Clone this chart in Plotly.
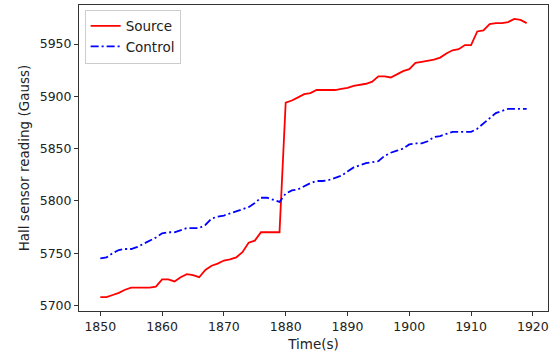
import plotly.graph_objects as go

# Time stamps (s), one reading per second
time_s = list(range(1850, 1920))

# Hall sensor readings (Gauss)
source = [5708, 5708, 5710, 5712, 5715, 5717, 5717, 5717, 5717, 5718,
          5725, 5725, 5723, 5727, 5730, 5729, 5727, 5734, 5738, 5740,
          5743, 5744, 5746, 5751, 5760, 5762, 5770, 5770, 5770, 5770,
          5894, 5896, 5899, 5902, 5903, 5906, 5906, 5906, 5906, 5907,
          5908, 5910, 5911, 5912, 5914, 5919, 5919, 5918, 5921, 5924,
          5926, 5932, 5933, 5934, 5935, 5937, 5941, 5944, 5945, 5949,
          5949, 5962, 5963, 5969, 5970, 5970, 5971, 5974, 5973, 5970]
control = [5745, 5746, 5750, 5753, 5754, 5754, 5756, 5759, 5762, 5765,
           5769, 5770, 5770, 5772, 5774, 5774, 5774, 5777, 5783, 5785,
           5786, 5788, 5790, 5792, 5794, 5798, 5803, 5803, 5801, 5799,
           5807, 5810, 5811, 5814, 5817, 5819, 5819, 5820, 5822, 5824,
           5828, 5832, 5834, 5836, 5837, 5838, 5843, 5846, 5848, 5850,
           5854, 5855, 5855, 5857, 5861, 5862, 5864, 5866, 5866, 5866,
           5866, 5869, 5874, 5879, 5884, 5886, 5888, 5888, 5888, 5888]

x_ticks = [1850, 1860, 1870, 1880, 1890, 1900, 1910, 1920]
y_ticks = [5700, 5750, 5800, 5850, 5900, 5950]

FONT = "DejaVu Sans"
AX_COLOR = "#333333"
TXT_COLOR = "#222222"

def padded(lo, hi, frac=0.05):
    span = hi - lo
    return [lo - frac * span, hi + frac * span]

fig = go.Figure()
fig.add_trace(go.Scatter(x=time_s, y=source, mode="lines", name="Source",
                         line=dict(color="#ff0000", width=1.8)))
fig.add_trace(go.Scatter(x=time_s, y=control, mode="lines", name="Control",
                         line=dict(color="#0000ff", width=1.8,
                                   dash="8px,3px,2px,3px")))

axis_common = dict(showline=True, linecolor=AX_COLOR, linewidth=1, mirror=True,
                   ticks="outside", ticklen=4, tickwidth=1, tickcolor=AX_COLOR,
                   showgrid=False, zeroline=False,
                   tickfont=dict(family=FONT, size=12.5, color=TXT_COLOR))

fig.update_layout(
    width=550, height=356,
    margin=dict(l=79, r=2, t=5, b=45),
    plot_bgcolor="white", paper_bgcolor="white",
    font=dict(family=FONT, size=12.5, color=TXT_COLOR),
    xaxis=dict(range=padded(min(time_s), max(time_s)), tickvals=x_ticks,
               title=dict(text="Time(s)", standoff=6,
                          font=dict(family=FONT, size=13.5, color=TXT_COLOR)),
               **axis_common),
    yaxis=dict(range=padded(min(source + control), max(source + control)),
               tickvals=y_ticks,
               title=dict(text="Hall sensor reading (Gauss)", standoff=6,
                          font=dict(family=FONT, size=13.5, color=TXT_COLOR)),
               **axis_common),
    legend=dict(x=0.012, y=0.985, xanchor="left", yanchor="top",
                bgcolor="white", bordercolor="#cccccc", borderwidth=1,
                font=dict(family=FONT, size=13.5, color=TXT_COLOR),
                tracegroupgap=0, itemwidth=30),
    showlegend=True,
)

fig.write_html("out.html")
